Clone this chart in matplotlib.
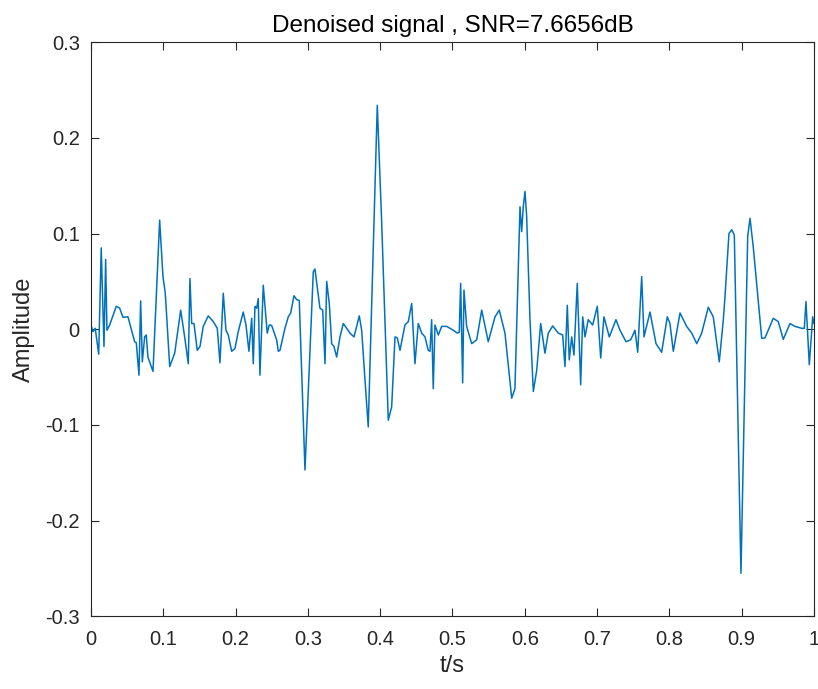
import matplotlib
matplotlib.use("Agg")
import matplotlib.pyplot as plt

plt.rcParams['font.family'] = ['Liberation Sans', 'DejaVu Sans']

# values (t in s, amplitude)
t = [0.0, 0.0028, 0.0059, 0.0107, 0.0142, 0.0180, 0.0203, 0.0221, 0.0259, 0.0350,
     0.0397, 0.0443, 0.0512, 0.0604, 0.0627, 0.0664, 0.0687, 0.0710, 0.0743, 0.0765,
     0.0788, 0.0858, 0.0950, 0.0996, 0.1028, 0.1089, 0.1158, 0.1241, 0.1296, 0.1346,
     0.1369, 0.1393, 0.1425, 0.1470, 0.1508, 0.1553, 0.1622, 0.1692, 0.1747, 0.1784,
     0.1830, 0.1867, 0.1899, 0.1946, 0.1992, 0.2037, 0.2106, 0.2144, 0.2185, 0.2223,
     0.2245, 0.2268, 0.2292, 0.2314, 0.2337, 0.2383, 0.2438, 0.2466, 0.2499, 0.2568,
     0.2591, 0.2614, 0.2683, 0.2729, 0.2762, 0.2808, 0.2845, 0.2881, 0.2960, 0.3075,
     0.3098, 0.3167, 0.3205, 0.3237, 0.3260, 0.3296, 0.3329, 0.3361, 0.3398, 0.3444,
     0.3490, 0.3582, 0.3638, 0.3711, 0.3744, 0.3790, 0.3835, 0.3960, 0.4021, 0.4112,
     0.4159, 0.4205, 0.4237, 0.4274, 0.4343, 0.4389, 0.4436, 0.4481, 0.4527, 0.4574,
     0.4620, 0.4665, 0.4689, 0.4712, 0.4734, 0.4758, 0.4804, 0.4851, 0.4920, 0.5011,
     0.5066, 0.5094, 0.5113, 0.5141, 0.5159, 0.5196, 0.5266, 0.5335, 0.5404, 0.5495,
     0.5588, 0.5647, 0.5726, 0.5819, 0.5864, 0.5934, 0.5957, 0.5979, 0.6003, 0.6026,
     0.6072, 0.6118, 0.6165, 0.6220, 0.6279, 0.6325, 0.6386, 0.6463, 0.6524, 0.6556,
     0.6588, 0.6615, 0.6649, 0.6680, 0.6726, 0.6773, 0.6801, 0.6833, 0.6878, 0.6939,
     0.7003, 0.7050, 0.7095, 0.7169, 0.7261, 0.7317, 0.7400, 0.7465, 0.7524, 0.7562,
     0.7617, 0.7649, 0.7732, 0.7815, 0.7893, 0.7971, 0.8008, 0.8054, 0.8147, 0.8239,
     0.8309, 0.8378, 0.8447, 0.8538, 0.8607, 0.8690, 0.8746, 0.8769, 0.8824, 0.8862,
     0.8898, 0.8990, 0.9083, 0.9115, 0.9160, 0.9277, 0.9322, 0.9437, 0.9506, 0.9575,
     0.9668, 0.9737, 0.9830, 0.9866, 0.9889, 0.9935, 0.9982, 1.0]
amp = [0.0045, -0.0025, 0.001, -0.026, 0.085, -0.018, 0.073, -0.001, 0.0045, 0.024,
       0.022, 0.0125, 0.013, -0.013, -0.014, -0.048, 0.0296, -0.034, -0.0077, -0.006,
       -0.029, -0.044, 0.114, 0.055, 0.0376, -0.039, -0.025, 0.020, -0.008, -0.036,
       0.053, 0.006, 0.006, -0.022, -0.018, 0.003, 0.014, 0.008, 0.001, -0.035,
       0.0376, -0.001, -0.006, -0.023, -0.020, -0.0025, 0.018, 0.0045, -0.023, 0.0115,
       -0.036, 0.024, 0.022, 0.032, -0.048, 0.046, -0.004, 0.0045, 0.004, -0.011,
       -0.023, -0.022, 0.001, 0.013, 0.017, 0.035, 0.031, 0.030, -0.147, 0.060,
       0.063, 0.022, 0.020, -0.036, 0.050, 0.027, -0.015, -0.018, -0.029, -0.008,
       0.006, -0.004, -0.008, 0.014, -0.001, -0.053, -0.102, 0.234, 0.111, -0.095,
       -0.081, -0.008, -0.009, -0.022, 0.0045, 0.008, 0.027, -0.036, 0.006, -0.004,
       -0.008, -0.022, -0.023, 0.010, -0.062, 0.0045, -0.006, 0.003, 0.003, -0.001,
       -0.004, -0.003, 0.048, -0.056, 0.041, 0.003, -0.015, -0.011, 0.020, -0.013,
       0.013, 0.020, -0.004, -0.072, -0.062, 0.128, 0.102, 0.128, 0.144, 0.118,
       0.010, -0.065, -0.043, 0.006, -0.025, -0.004, 0.0035, -0.004, -0.006, -0.039,
       0.025, -0.032, -0.008, -0.027, 0.048, -0.058, 0.013, -0.008, 0.010, 0.0045,
       0.024, -0.030, 0.013, -0.008, 0.010, -0.001, -0.013, -0.011, -0.001, -0.024,
       0.055, -0.008, 0.018, -0.015, -0.024, 0.013, 0.006, -0.023, 0.017, 0.003,
       -0.004, -0.015, -0.004, 0.023, 0.013, -0.034, 0.010, 0.034, 0.100, 0.104,
       0.0985, -0.255, 0.097, 0.116, 0.086, -0.0095, -0.009, 0.0115, 0.008, -0.0105,
       0.006, 0.003, 0.001, 0.001, 0.029, -0.037, 0.013, 0.006]

x_ticks = [0, 0.1, 0.2, 0.3, 0.4, 0.5, 0.6, 0.7, 0.8, 0.9, 1]
x_labels = ['0', '0.1', '0.2', '0.3', '0.4', '0.5', '0.6', '0.7', '0.8', '0.9', '1']
y_ticks = [-0.3, -0.2, -0.1, 0, 0.1, 0.2, 0.3]
y_labels = ['-0.3', '-0.2', '-0.1', '0', '0.1', '0.2', '0.3']

axis_color = '#262626'

fig = plt.figure(figsize=(8.18, 6.89), dpi=100)
ax = fig.add_axes([0.1112, 0.1054, 0.8839, 0.8334])
ax.plot(t, amp, color='#0072BD', linewidth=1.1)

ax.set_xlim(0, 1)
ax.set_ylim(-0.3, 0.3)
ax.set_xticks(x_ticks)
ax.set_xticklabels(x_labels)
ax.set_yticks(y_ticks)
ax.set_yticklabels(y_labels)
ax.tick_params(direction='in', length=6, width=0.8, colors=axis_color,
               labelsize=14.5, top=True, right=True)
ax.tick_params(axis='y', pad=8)
ax.tick_params(axis='x', pad=10)
for s in ax.spines.values():
    s.set_color(axis_color)
    s.set_linewidth(0.8)

ax.set_xlabel('t/s', fontsize=17, color=axis_color, labelpad=4)
ax.set_ylabel('Amplitude', fontsize=17, color=axis_color, labelpad=7.5)
ax.set_title('Denoised signal , SNR=7.6656dB', fontsize=17.5, color='black', pad=7.5)

fig.savefig('out.png', dpi=100)
